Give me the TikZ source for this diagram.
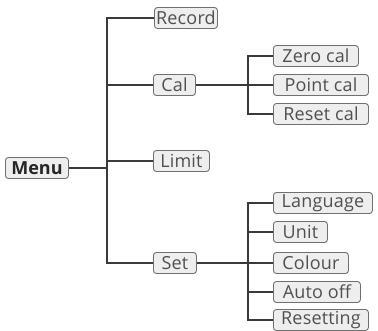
\documentclass[tikz,border=0pt]{standalone}
\usepackage{fontspec}
\setmainfont{Open Sans}
\usetikzlibrary{positioning}
\definecolor{boxfill}{HTML}{EEEEEE}
\definecolor{boxline}{HTML}{707070}
\definecolor{wire}{HTML}{3A3A3A}
\definecolor{txt}{HTML}{505050}
\tikzset{
  item/.style={draw=boxline, fill=boxfill, rounded corners=3pt, line width=0.9pt,
    anchor=west, inner xsep=1pt, inner ysep=0pt, minimum height=21pt,
    text=txt, font=\fontsize{18}{18}\selectfont\addfontfeature{LetterSpace=1}},
  root/.style={item, font=\fontsize{18}{18}\selectfont\bfseries, text=black!85},
  wire/.style={draw=wire, line width=1.1pt}
}
\begin{document}
\begin{tikzpicture}[x=1pt,y=-1pt]
    \useasboundingbox (0,0) rectangle (378,331);

    % first level
    \node[root, minimum width=63pt] (menu) at (5,168) {Menu};
    \node[item, minimum width=63pt] (record) at (154,18) {Record};
    \node[item, minimum width=42pt] (cal) at (153,85) {Cal};
    \node[item, minimum width=56pt] (limit) at (153,161) {Limit};
    \node[item, minimum width=43pt] (set) at (153,263) {Set};

    % calibration
    \node[item, minimum width=85pt] (zerocal) at (273,56) {Zero cal};
    \node[item, minimum width=95pt] (pointcal) at (273,85) {Point cal};
    \node[item, minimum width=95pt] (resetcal) at (273,114) {Reset cal};

    % settings
    \node[item, minimum width=99pt] (language) at (273,203) {Language};
    \node[item, minimum width=54pt] (unit) at (273,232) {Unit};
    \node[item, minimum width=75pt] (colour) at (273,263) {Colour};
    \node[item, minimum width=87pt] (autooff) at (273,292) {Auto off};
    \node[item, minimum width=95pt] (resetting) at (273,320) {Resetting};

    \coordinate (mt) at (107,168);
    \coordinate (ct) at (248,85);
    \coordinate (st) at (248,263);

    \draw[wire] (menu.east) -- (mt);
    \foreach \n in {record,cal,limit,set}
      \draw[wire] (mt) |- (\n.west);
    \draw[wire] (cal.east) -- (ct);
    \foreach \n in {zerocal,pointcal,resetcal}
      \draw[wire] (ct) |- (\n.west);
    \draw[wire] (set.east) -- (st);
    \foreach \n in {language,unit,colour,autooff,resetting}
      \draw[wire] (st) |- (\n.west);
  \end{tikzpicture}
\end{document}
